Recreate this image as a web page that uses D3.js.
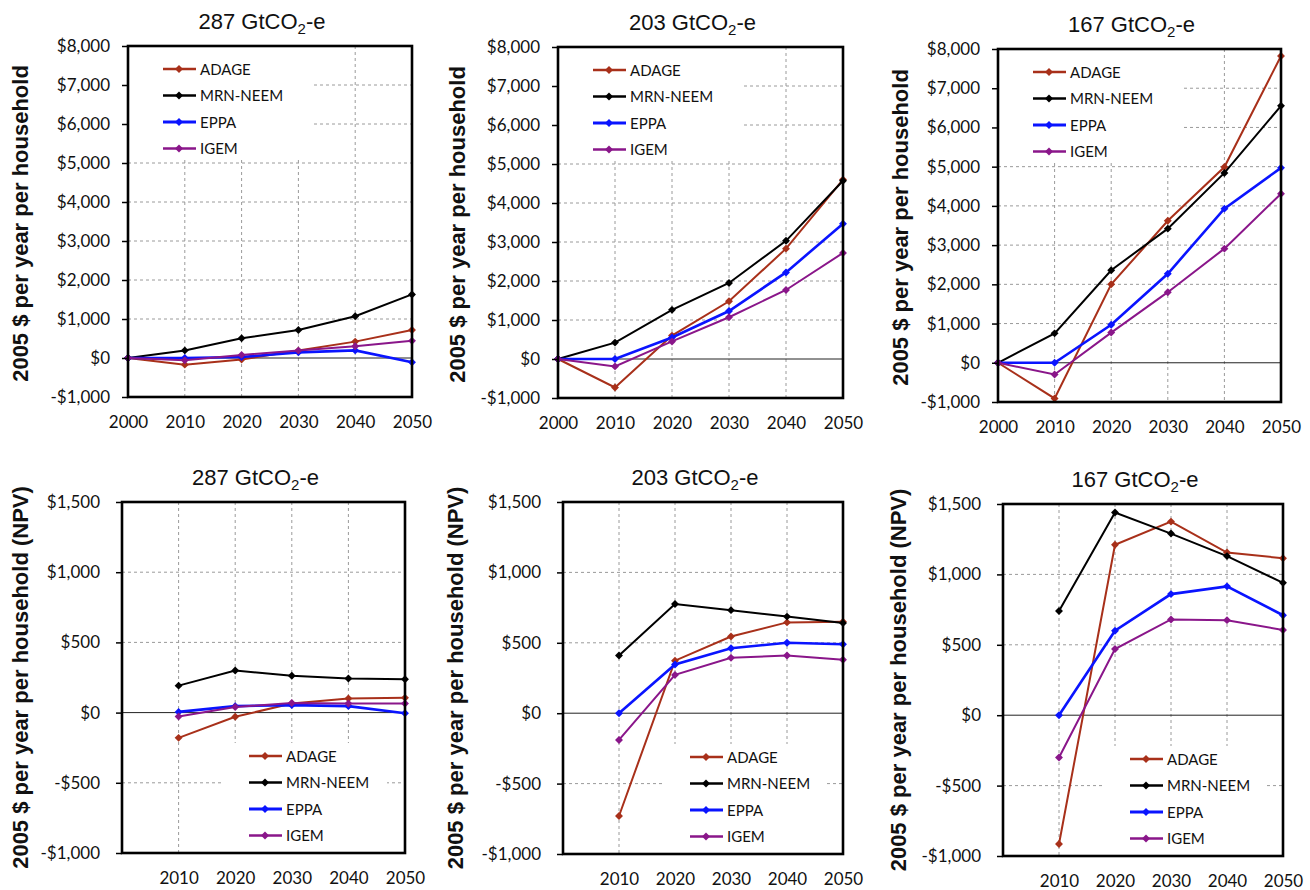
<!DOCTYPE html>
<html>
<head>
<meta charset="utf-8">
<script src="https://cdn.jsdelivr.net/npm/d3@7"></script>
<style>
  body { margin: 0; background: #fff; }
  .tick text { font-family: Lato, "Open Sans", sans-serif; font-size: 17px; fill: #111; }
  .title { font-family: "Liberation Sans", Arial, sans-serif; font-size: 22px; fill: #111; }
  .ytitle { font-family: "Liberation Sans", Arial, sans-serif; font-size: 22px; font-weight: bold; fill: #111; }
  .legend { font-family: Lato, "Open Sans", sans-serif; font-size: 15px; fill: #111; }
  .grid line { stroke: #9a9a9a; stroke-dasharray: 3,3; stroke-width: 1; }
</style>
</head>
<body>
<script>
// ---- data ----
const years = [2000, 2010, 2020, 2030, 2040, 2050];
const npvYears = [2010, 2020, 2030, 2040, 2050];
const models = ["ADAGE", "MRN-NEEM", "EPPA", "IGEM"];
const scenarios = ["287", "203", "167"];

const annualTicks = [-1000, 0, 1000, 2000, 3000, 4000, 5000, 6000, 7000, 8000];
const npvTicks = [-1000, -500, 0, 500, 1000, 1500];

// annual cost, 2005 $ per year per household (order: ADAGE, MRN-NEEM, EPPA, IGEM)
const annual287 = [
    [0, -170, -40, 190, 420, 720],
    [0, 195, 505, 720, 1070, 1630],
    [0, 0, 25, 145, 195, -110],
    [0, -60, 80, 190, 300, 440]
];
const annual203 = [
    [0, -730, 600, 1480, 2830, 4600],
    [0, 420, 1260, 1950, 3030, 4570],
    [0, 0, 550, 1230, 2220, 3470],
    [0, -190, 450, 1070, 1770, 2720]
];
const annual167 = [
    [0, -910, 2000, 3620, 4990, 7820],
    [0, 750, 2360, 3420, 4840, 6550],
    [0, 0, 970, 2270, 3930, 4970],
    [0, -300, 770, 1800, 2910, 4310]
];

// net present value, 2005 $ per year per household
const npv287 = [
    [-180, -30, 65, 100, 105],
    [192, 300, 262, 243, 238],
    [5, 46, 53, 46, -5],
    [-28, 40, 68, 65, 65]
];
const npv203 = [
    [-730, 373, 545, 645, 650],
    [410, 775, 732, 686, 640],
    [0, 346, 461, 500, 490],
    [-190, 272, 393, 410, 380]
];
const npv167 = [
    [-915, 1210, 1375, 1155, 1115],
    [740, 1440, 1290, 1130, 940],
    [0, 600, 860, 915, 710],
    [-300, 470, 680, 675, 605]
];

// ---- styles / layout ----
const colors = ["#a8301a", "#000000", "#0a14ff", "#8a168a"];
const widths = [2, 2, 2.6, 2];

const topBox = [
    {l: 128, r: 412, t: 46, b: 397, yt: 20},
    {l: 558, r: 843, t: 47, b: 398, yt: 457},
    {l: 998, r: 1281, t: 49, b: 402, yt: 900}
];
const botBox = [
    {l: 122, r: 405, t: 502, b: 853, yt: 20},
    {l: 563, r: 843, t: 502, b: 854, yt: 455},
    {l: 1003, r: 1283, t: 504, b: 856, yt: 898}
];

const svg = d3.select("body").append("svg")
    .attr("width", 1310)
    .attr("height", 890);

function dollar(v) {
    const s = "$" + d3.format(",")(Math.abs(v));
    return v < 0 ? "-" + s : s;
}

function drawPanel(box, scen, series, xs, yTicks, yDomain, xTickVals, ytitle, legendAtTop) {
    const w = box.r - box.l, h = box.b - box.t;
    const x = d3.scaleLinear().domain([2000, 2050]).range([0, w]);
    const y = d3.scaleLinear().domain(yDomain).range([h, 0]);

    const g = svg.append("g").attr("transform", "translate(" + box.l + "," + box.t + ")");

    // grid
    const grid = g.append("g").attr("class", "grid");
    grid.selectAll(".hg")
        .data(yTicks.filter(v => v !== 0 && v !== yDomain[0] && v !== yDomain[1]))
        .join("line")
        .attr("x1", 0).attr("x2", w)
        .attr("y1", d => y(d)).attr("y2", d => y(d));
    grid.selectAll(".vg")
        .data([2010, 2020, 2030, 2040])
        .join("line")
        .attr("x1", d => x(d)).attr("x2", d => x(d))
        .attr("y1", 0).attr("y2", h);

    // white legend background hides part of grid
    if (legendAtTop) {
        g.append("rect").attr("x", 1).attr("y", 1)
            .attr("width", 183).attr("height", 112).attr("fill", "#fff");
    } else {
        g.append("rect").attr("x", 100).attr("y", h - 110)
            .attr("width", w - 118).attr("height", 109).attr("fill", "#fff");
    }

    // zero line
    g.append("line")
        .attr("x1", 0).attr("x2", w)
        .attr("y1", y(0)).attr("y2", y(0))
        .attr("stroke", "#222").attr("stroke-width", 1);

    // series
    const line = d3.line().x(d => x(d[0])).y(d => y(d[1]));
    series.forEach((vals, i) => {
        const pts = xs.map((yr, k) => [yr, vals[k]]);
        g.append("path")
            .attr("d", line(pts))
            .attr("fill", "none")
            .attr("stroke", colors[i])
            .attr("stroke-width", widths[i]);
        g.selectAll(".m" + i)
            .data(pts)
            .join("path")
            .attr("d", d3.symbol(d3.symbolDiamond2, 40))
            .attr("transform", d => "translate(" + x(d[0]) + "," + y(d[1]) + ")")
            .attr("fill", colors[i]);
    });

    // legend
    const lx = legendAtTop ? 35 : 127;
    const ly = legendAtTop ? 23 : h - 97;
    models.forEach((m, i) => {
        const yy = ly + i * 26.5;
        g.append("line")
            .attr("x1", lx).attr("x2", lx + 33)
            .attr("y1", yy).attr("y2", yy)
            .attr("stroke", colors[i]).attr("stroke-width", widths[i] + 0.5);
        g.append("path")
            .attr("d", d3.symbol(d3.symbolDiamond2, 40))
            .attr("transform", "translate(" + (lx + 16) + "," + yy + ")")
            .attr("fill", colors[i]);
        g.append("text")
            .attr("class", "legend")
            .attr("x", lx + 37).attr("y", yy + 5.5)
            .text(m);
    });

    // frame
    g.append("rect")
        .attr("width", w).attr("height", h)
        .attr("fill", "none").attr("stroke", "#000").attr("stroke-width", 2.6);

    // axes
    g.append("g")
        .call(d3.axisLeft(y).tickValues(yTicks).tickFormat(dollar).tickSize(6)
            .tickPadding(legendAtTop ? 12 : 16))
        .call(a => a.select(".domain").remove())
        .call(a => a.selectAll(".tick line").attr("stroke-width", 1.5));

    g.append("g")
        .attr("transform", "translate(0," + h + ")")
        .call(d3.axisBottom(x).tickValues(xTickVals).tickFormat(d3.format("d")).tickSize(0).tickPadding(19))
        .call(a => a.select(".domain").remove());

    // title
    const t = g.append("text")
        .attr("class", "title")
        .attr("x", w / 2 - 8)
        .attr("y", -17)
        .attr("text-anchor", "middle");
    t.append("tspan").text(scen + " GtCO");
    t.append("tspan").attr("dy", 5).attr("font-size", "15px").text("2");
    t.append("tspan").attr("dy", -5).text("-e");

    // y title
    svg.append("text")
        .attr("class", "ytitle")
        .attr("transform", "translate(" + (box.yt + 8) + "," + (box.t + h / 2 + (legendAtTop ? 2 : 0)) + ") rotate(-90)")
        .attr("text-anchor", "middle")
        .text(ytitle);
}

const annualSets = [annual287, annual203, annual167];
const npvSets = [npv287, npv203, npv167];

scenarios.forEach((s, i) => {
    drawPanel(topBox[i], s, annualSets[i], years, annualTicks, [-1000, 8000], years,
        "2005 $ per year per household", true);
    drawPanel(botBox[i], s, npvSets[i], npvYears, npvTicks, [-1000, 1500], npvYears,
        "2005 $ per year per household (NPV)", false);
});
</script>
</body>
</html>
